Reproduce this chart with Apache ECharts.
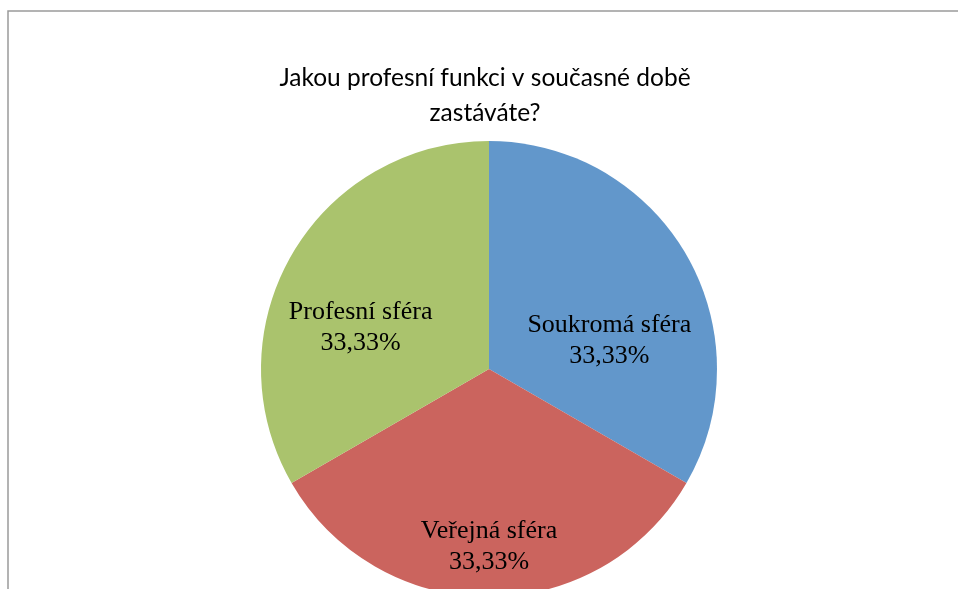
<!DOCTYPE html>
<html>
<head>
<meta charset="utf-8">
<script src="https://cdn.jsdelivr.net/npm/echarts@6/dist/echarts.min.js"></script>
<style>
    html, body { margin: 0; padding: 0; background: #fff; }
    #chart { width: 958px; height: 589px; }
</style>
</head>
<body>
<div id="chart"></div>
<script>
// data
var titleText = "Jakou profesní funkci v současné době\nzastáváte?";
var categories = ["Soukromá sféra", "Veřejná sféra", "Profesní sféra"];
var values = [33.33, 33.33, 33.33];
var colors = ["#6297cb", "#cb645e", "#aac36d"];

// posun popisku od výchozí pozice uvnitř výseče
var labelShift = [[19, 30], [0, 61], [-27, 17]];

var pieData = [];
for (var i = 0; i < categories.length; i++) {
    pieData.push({
        name: categories[i],
        value: values[i],
        itemStyle: { color: colors[i] },
        label: { offset: labelShift[i] }
    });
}

var myChart = echarts.init(document.getElementById('chart'));

myChart.setOption({
    animation: false,
    title: {
        text: titleText,
        left: 480,
        top: 56,
        textAlign: 'center',
        textStyle: {
            fontFamily: 'Lato',
            fontWeight: 'normal',
            fontSize: 24.5,
            lineHeight: 35,
            color: '#000'
        }
    },
    graphic: [
        {
            type: 'rect',
            shape: { x: 8, y: 11, width: 1200, height: 1200 },
            style: { fill: 'none', stroke: '#9a9a9a', lineWidth: 1.5 },
            silent: true
        }
    ],
    series: [
        {
            type: 'pie',
            center: [489, 369],
            radius: 228,
            startAngle: 90,
            clockwise: true,
            data: pieData,
            label: {
                show: true,
                position: 'inside',
                formatter: function (p) {
                    return p.name + '\n' + p.value.toFixed(2).replace('.', ',') + '%';
                },
                fontFamily: 'Liberation Serif',
                fontSize: 26,
                lineHeight: 31,
                color: '#000'
            },
            labelLine: { show: false },
            emphasis: { disabled: true }
        }
    ]
});
</script>
</body>
</html>
